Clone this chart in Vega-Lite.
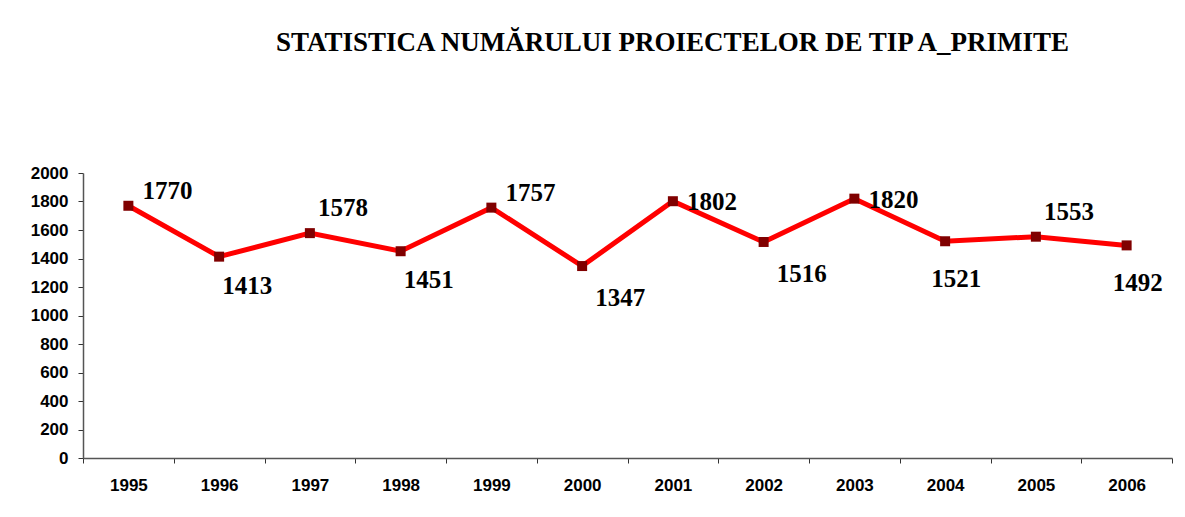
{
  "$schema": "https://vega.github.io/schema/vega-lite/v6.json",
  "width": 1089,
  "height": 285,
  "autosize": {"type": "none"},
  "padding": {"left": 83, "top": 173, "right": 13, "bottom": 59},
  "background": "white",
  "config": {"view": {"stroke": null}},
  "title": {
    "text": "STATISTICA NUMĂRULUI PROIECTELOR DE TIP A_PRIMITE",
    "font": "Liberation Serif",
    "fontWeight": "bold",
    "fontSize": 27,
    "color": "#000000",
    "anchor": "middle",
    "baseline": "alphabetic",
    "offset": 86,
    "dx": 45
  },
  "data": {
    "values": [
      {"year": "1995", "value": 1770},
      {"year": "1996", "value": 1413},
      {"year": "1997", "value": 1578},
      {"year": "1998", "value": 1451},
      {"year": "1999", "value": 1757},
      {"year": "2000", "value": 1347},
      {"year": "2001", "value": 1802},
      {"year": "2002", "value": 1516},
      {"year": "2003", "value": 1820},
      {"year": "2004", "value": 1521},
      {"year": "2005", "value": 1553},
      {"year": "2006", "value": 1492}
    ]
  },
  "encoding": {
    "x": {
      "field": "year",
      "type": "ordinal",
      "scale": {"type": "band", "paddingInner": 0, "paddingOuter": 0},
      "axis": {
        "title": null,
        "labelAngle": 0,
        "labelFont": "Liberation Sans",
        "labelFontWeight": "bold",
        "labelFontSize": 17,
        "labelColor": "#000000",
        "labelPadding": 14,
        "tickBand": "extent",
        "tickSize": 5,
        "tickColor": "#333333",
        "domainColor": "#555555",
        "domainWidth": 1.5,
        "grid": false
      }
    },
    "y": {
      "field": "value",
      "type": "quantitative",
      "scale": {"domain": [0, 2000], "nice": false},
      "axis": {
        "title": null,
        "format": "d",
        "values": [0, 200, 400, 600, 800, 1000, 1200, 1400, 1600, 1800, 2000],
        "labelFont": "Liberation Sans",
        "labelFontWeight": "bold",
        "labelFontSize": 17,
        "labelColor": "#000000",
        "labelPadding": 10,
        "tickSize": 5,
        "tickColor": "#333333",
        "domainColor": "#555555",
        "domainWidth": 1.5,
        "grid": false
      }
    }
  },
  "layer": [
    {"mark": {"type": "line", "color": "#FF0000", "strokeWidth": 5}},
    {"mark": {"type": "point", "shape": "square", "filled": true, "color": "#800000", "size": 100, "opacity": 1}},
    {
      "transform": [{"filter": {"field": "year", "oneOf": ["1995", "1999"]}}],
      "mark": {"type": "text", "font": "Liberation Serif", "fontWeight": "bold", "fontSize": 25, "color": "#000000", "align": "center", "baseline": "middle", "dx": 39, "dy": -15},
      "encoding": {"text": {"field": "value", "type": "quantitative", "format": "d"}}
    },
    {
      "transform": [{"filter": {"field": "year", "oneOf": ["1996", "1998"]}}],
      "mark": {"type": "text", "font": "Liberation Serif", "fontWeight": "bold", "fontSize": 25, "color": "#000000", "align": "center", "baseline": "middle", "dx": 28, "dy": 29},
      "encoding": {"text": {"field": "value", "type": "quantitative", "format": "d"}}
    },
    {
      "transform": [{"filter": {"field": "year", "oneOf": ["1997", "2005"]}}],
      "mark": {"type": "text", "font": "Liberation Serif", "fontWeight": "bold", "fontSize": 25, "color": "#000000", "align": "center", "baseline": "middle", "dx": 33, "dy": -25},
      "encoding": {"text": {"field": "value", "type": "quantitative", "format": "d"}}
    },
    {
      "transform": [{"filter": {"field": "year", "oneOf": ["2000", "2002"]}}],
      "mark": {"type": "text", "font": "Liberation Serif", "fontWeight": "bold", "fontSize": 25, "color": "#000000", "align": "center", "baseline": "middle", "dx": 38, "dy": 32},
      "encoding": {"text": {"field": "value", "type": "quantitative", "format": "d"}}
    },
    {
      "transform": [{"filter": {"field": "year", "oneOf": ["2001", "2003"]}}],
      "mark": {"type": "text", "font": "Liberation Serif", "fontWeight": "bold", "fontSize": 25, "color": "#000000", "align": "center", "baseline": "middle", "dx": 39, "dy": 1},
      "encoding": {"text": {"field": "value", "type": "quantitative", "format": "d"}}
    },
    {
      "transform": [{"filter": {"field": "year", "oneOf": ["2004", "2006"]}}],
      "mark": {"type": "text", "font": "Liberation Serif", "fontWeight": "bold", "fontSize": 25, "color": "#000000", "align": "center", "baseline": "middle", "dx": 11, "dy": 38},
      "encoding": {"text": {"field": "value", "type": "quantitative", "format": "d"}}
    }
  ]
}
